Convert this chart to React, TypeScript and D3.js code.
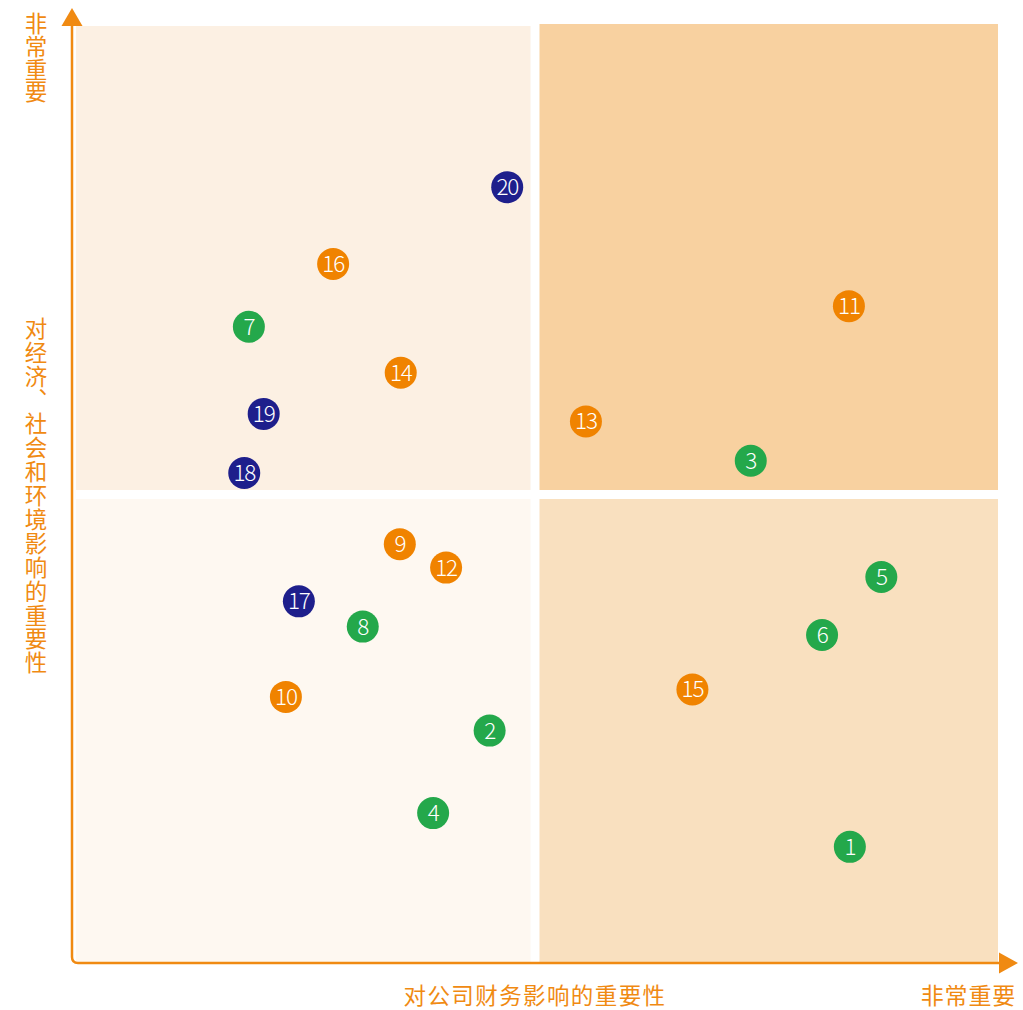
import React from "react";
import * as d3 from "d3";

const ids = [1, 2, 3, 4, 5, 6, 7, 8, 9, 10, 11, 12, 13, 14, 15, 16, 17, 18, 19, 20];
const financial = [8.40, 4.51, 7.33, 3.90, 8.74, 8.10, 1.91, 3.14, 3.54, 2.31, 8.39, 4.04, 5.55, 3.55, 6.70, 2.82, 2.45, 1.86, 2.07, 4.70];
const impact = [1.24, 2.48, 5.36, 1.60, 4.12, 3.50, 6.79, 3.59, 4.47, 2.84, 7.01, 4.22, 5.78, 6.30, 2.92, 7.46, 3.86, 5.23, 5.86, 8.28];
const groups = ["环境", "环境", "环境", "环境", "环境", "环境", "环境", "环境", "社会", "社会", "社会", "社会", "社会", "社会", "社会", "社会", "治理", "治理", "治理", "治理"];
const groupNames = ["环境", "社会", "治理"];
const groupColors = ["#24a84b", "#f08300", "#1e1f8c"];
const quadrants = [
  { qx: 0, qy: 1, color: "#fcf0e3" },
  { qx: 1, qy: 1, color: "#f8d1a0" },
  { qx: 0, qy: 0, color: "#fef8f1" },
  { qx: 1, qy: 0, color: "#f9e0bf" },
];
const xTitle = "对公司财务影响的重要性";
const yTitle = "对经济、社会和环境影响的重要性";
const highLabel = "非常重要";

const W = 1023;
const H = 1010;
const AXIS = "#f08a12";
const FONT = "'Noto Sans CJK SC', 'Noto Sans', sans-serif";

export default function App() {
  const x = d3.scaleLinear().domain([0, 10]).range([72, 998]);
  const y = d3.scaleLinear().domain([0, 10]).range([963, 26]);
  const color = d3.scaleOrdinal<string, string>().domain(groupNames).range(groupColors);
  const gap = 4.5;
  const mx = x(5);
  const my = y(5);

  const x0 = x(0);
  const y0 = y(0);
  const axisPath = `M${x0},${y(10)} L${x0},${y0 - 6} Q${x0},${y0} ${x0 + 6},${y0} L${x(10) + 2},${y0}`;

  return (
    <svg width={W} height={H} style={{ position: "absolute", left: 0, top: 0 }} fontFamily={FONT}>
      {quadrants.map((q, i) => {
        const left = q.qx === 0 ? x0 + 4 : mx + gap;
        const right = q.qx === 0 ? mx - gap : x(10);
        const top = q.qy === 1 ? (q.qx === 1 ? y(10) - 2 : y(10)) : my + gap;
        const bottom = q.qy === 1 ? my - gap : y0 - 1;
        return <rect key={i} x={left} y={top} width={right - left} height={bottom - top} fill={q.color} />;
      })}
      <path d={axisPath} fill="none" stroke={AXIS} strokeWidth={2.5} />
      <path d={`M${x0 - 10.5},${y(10)} L${x0 + 10.5},${y(10)} L${x0},${8} Z`} fill={AXIS} />
      <path d={`M${x(10) + 1},${y0 - 10.5} L${x(10) + 1},${y0 + 10.5} L${1018},${y0} Z`} fill={AXIS} />

      <text
        x={36}
        y={12}
        fill={AXIS}
        fontSize={22.5}
        letterSpacing={0.4}
        style={{ writingMode: "vertical-rl" as any }}
      >
        {highLabel}
      </text>
      <text
        x={36}
        y={317}
        fill={AXIS}
        fontSize={22.5}
        letterSpacing={1.4}
        style={{ writingMode: "vertical-rl" as any }}
      >
        {yTitle}
      </text>
      <text x={mx} y={1004} fill={AXIS} fontSize={22.5} textAnchor="middle" letterSpacing={1.4}>
        {xTitle}
      </text>
      <text x={1016} y={1004} fill={AXIS} fontSize={23} textAnchor="end" letterSpacing={0.8}>
        {highLabel}
      </text>

      {ids.map((id, i) => (
        <g key={id} transform={`translate(${x(financial[i])},${y(impact[i])})`}>
          <circle r={16} fill={color(groups[i])} />
          <text
            y={8}
            textAnchor="middle"
            fill="#ffffff"
            fontSize={22.5}
            fontWeight={300}
            letterSpacing={-1.2}
          >
            {id}
          </text>
        </g>
      ))}
    </svg>
  );
}
